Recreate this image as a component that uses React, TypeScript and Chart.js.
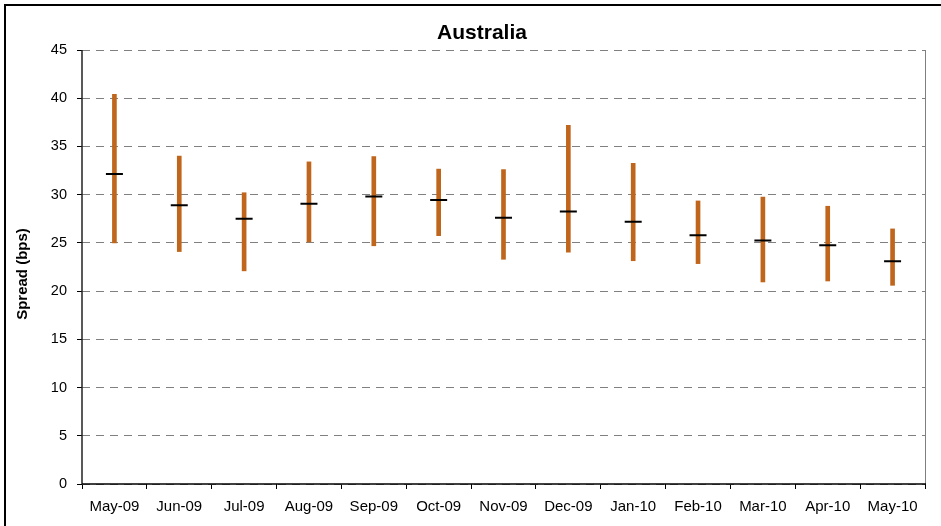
import React, { useEffect, useRef } from "react";
import { Chart, registerables } from "chart.js";

Chart.register(...registerables);

const categories = ["May-09", "Jun-09", "Jul-09", "Aug-09", "Sep-09", "Oct-09", "Nov-09", "Dec-09", "Jan-10", "Feb-10", "Mar-10", "Apr-10", "May-10"];
const highs = [40.4, 34.0, 30.2, 33.4, 33.95, 32.65, 32.6, 37.2, 33.25, 29.35, 29.75, 28.8, 26.45];
const lows = [25.0, 24.1, 22.1, 25.1, 24.7, 25.75, 23.3, 24.05, 23.15, 22.85, 20.95, 21.05, 20.6];
const means = [32.15, 28.9, 27.5, 29.05, 29.8, 29.45, 27.6, 28.25, 27.2, 25.8, 25.25, 24.75, 23.1];
const yTicks = [0, 5, 10, 15, 20, 25, 30, 35, 40, 45];

const FONT = "'Liberation Sans', Arial, sans-serif";

export default function App() {
  const ref = useRef<HTMLCanvasElement | null>(null);

  useEffect(() => {
    if (!ref.current) return;
    const decor = {
      id: "decor",
      afterDraw(chart: any) {
        const ctx = chart.ctx;
        const a = chart.chartArea;
        ctx.save();
        // outer frame
        ctx.strokeStyle = "#000";
        ctx.lineWidth = 2;
        ctx.beginPath();
        ctx.moveTo(5, 526);
        ctx.lineTo(5, 5);
        ctx.lineTo(941, 5);
        ctx.stroke();
        // right plot border
        ctx.strokeStyle = "#808080";
        ctx.lineWidth = 1;
        ctx.beginPath();
        ctx.moveTo(a.right + 0.5, a.top);
        ctx.lineTo(a.right + 0.5, a.bottom);
        ctx.stroke();
        // axes
        ctx.strokeStyle = "#222";
        ctx.lineWidth = 1.5;
        ctx.beginPath();
        ctx.moveTo(a.left, a.top);
        ctx.lineTo(a.left, a.bottom);
        ctx.stroke();
        ctx.strokeStyle = "#000";
        ctx.beginPath();
        ctx.moveTo(a.left, a.bottom);
        ctx.lineTo(a.right + 1, a.bottom);
        ctx.stroke();
        // title
        ctx.fillStyle = "#000";
        ctx.font = `bold 21px ${FONT}`;
        ctx.textAlign = "center";
        ctx.textBaseline = "middle";
        ctx.fillText("Australia", 482, 33);
        // y title
        ctx.translate(23, 274);
        ctx.rotate(-Math.PI / 2);
        ctx.font = `bold 15px ${FONT}`;
        ctx.fillText("Spread (bps)", 0, 0);
        ctx.restore();
      },
    };

    const chart = new Chart(ref.current, {
      type: "bar",
      data: {
        labels: categories,
        datasets: [
          {
            type: "line",
            data: means,
            showLine: false,
            pointStyle: "line",
            pointRadius: 8.5,
            pointBorderWidth: 2,
            pointBorderColor: "#000",
            pointBackgroundColor: "#000",
            order: 1,
          } as any,
          {
            type: "bar",
            data: categories.map((_, i) => [lows[i], highs[i]]),
            backgroundColor: "#C0661C",
            barThickness: 4,
            grouped: false,
            order: 2,
          } as any,
        ],
      },
      options: {
        animation: false,
        responsive: false,
        devicePixelRatio: 1,
        events: [],
        layout: { padding: { top: 50, right: 16, left: 0, bottom: 0 } },
        plugins: { legend: { display: false }, tooltip: { enabled: false }, title: { display: false } },
        scales: {
          x: {
            type: "category",
            offset: true,
            afterFit(scale: any) {
              scale.height = 42;
            },
            grid: {
              display: true,
              drawOnChartArea: false,
              drawTicks: true,
              tickLength: 5,
              offset: true,
              color: "#000",
              tickColor: "#000",
              tickWidth: 1,
            },
            border: { display: false },
            ticks: {
              color: "#000",
              font: { family: FONT, size: 15 },
              padding: 9,
              maxRotation: 0,
              autoSkip: false,
            },
          },
          y: {
            min: 0,
            max: 45,
            afterFit(scale: any) {
              scale.width = 82;
            },
            afterBuildTicks(scale: any) {
              scale.ticks = yTicks.map((v) => ({ value: v }));
            },
            grid: {
              color: "#808080",
              lineWidth: 1,
              drawTicks: true,
              tickLength: 5,
              tickColor: "#000",
              tickWidth: 1,
              tickBorderDash: [],
            } as any,
            border: { display: false, dash: [8, 6] },
            ticks: {
              color: "#000",
              font: { family: FONT, size: 14.5 },
              padding: 10,
            },
          },
        },
      },
      plugins: [decor],
    });
    return () => chart.destroy();
  }, []);

  return (
    <div style={{ position: "fixed", left: 0, top: 0, width: 941, height: 526, background: "#fff" }}>
      <canvas ref={ref} width={941} height={526} style={{ width: 941, height: 526, display: "block" }} />
    </div>
  );
}
